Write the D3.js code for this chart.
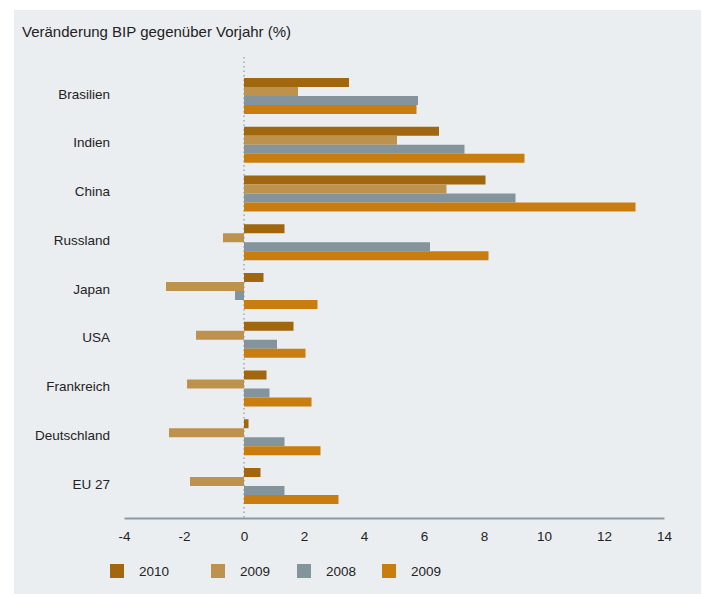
<!DOCTYPE html>
<html>
<head>
<meta charset="utf-8">
<script src="https://cdn.jsdelivr.net/npm/d3@7"></script>
<style>
  html, body { margin: 0; padding: 0; background: #ffffff; }
  svg { display: block; font-family: "Liberation Sans", Arial, sans-serif; }
</style>
</head>
<body>
<svg id="chart" width="703" height="594"></svg>
<script>
const categories = ["Brasilien", "Indien", "China", "Russland", "Japan", "USA", "Frankreich", "Deutschland", "EU 27"];
const seriesNames = ["2010", "2009", "2008", "2009"];
const values2010 = [3.5, 6.5, 8.05, 1.35, 0.65, 1.65, 0.75, 0.15, 0.55];
const values2009a = [1.8, 5.1, 6.75, -0.7, -2.6, -1.6, -1.9, -2.5, -1.8];
const values2008 = [5.8, 7.35, 9.05, 6.2, -0.3, 1.1, 0.85, 1.35, 1.35];
const values2009b = [5.75, 9.35, 13.05, 8.15, 2.45, 2.05, 2.25, 2.55, 3.15];
const xTicks = [-4, -2, 0, 2, 4, 6, 8, 10, 12, 14];
const colors = ["#a0670f", "#bd924d", "#83949d", "#c97d0f"];
const title = "Veränderung BIP gegenüber Vorjahr (%)";

const seriesValues = [values2010, values2009a, values2008, values2009b];
const seriesKeys = ["s0", "s1", "s2", "s3"];
const rows = categories.map((c, i) => ({
  cat: c,
  vals: seriesKeys.map((k, j) => ({ key: k, idx: j, v: seriesValues[j][i] }))
}));

const svg = d3.select("#chart");

// background panel
svg.append("rect").attr("x", 14).attr("y", 10).attr("width", 687).attr("height", 584).attr("fill", "#ebeef1");

// title
svg.append("text").attr("x", 22).attr("y", 37).attr("font-size", 15).attr("fill", "#222").text(title);

const x = d3.scaleLinear().domain([-4, 14]).range([124, 664]);
const y = d3.scaleBand().domain(categories).range([78, 504]).paddingInner(12.75 / 48.75).paddingOuter(0);
const yInner = d3.scaleBand().domain(seriesKeys).range([0, y.bandwidth()]).padding(0);

// zero dotted line
svg.append("line")
  .attr("x1", x(0)).attr("x2", x(0))
  .attr("y1", 57).attr("y2", 518)
  .attr("stroke", "#9eaab3").attr("stroke-width", 1.5)
  .attr("stroke-dasharray", "1.5,3");

// bars
const groups = svg.append("g").selectAll("g").data(rows).join("g")
  .attr("transform", d => `translate(0,${y(d.cat)})`);
groups.selectAll("rect").data(d => d.vals).join("rect")
  .attr("x", d => x(Math.min(0, d.v)))
  .attr("width", d => Math.abs(x(d.v) - x(0)))
  .attr("y", d => yInner(d.key))
  .attr("height", yInner.bandwidth())
  .attr("fill", d => colors[d.idx]);

// category labels
svg.append("g").selectAll("text").data(categories).join("text")
  .attr("x", 110)
  .attr("y", d => y(d) + y.bandwidth() / 2 - 2)
  .attr("dy", "0.35em")
  .attr("text-anchor", "end")
  .attr("font-size", 13.5)
  .attr("fill", "#222")
  .text(d => d);

// x axis
const axis = svg.append("g").attr("transform", "translate(0,518)")
  .call(d3.axisBottom(x).tickValues(xTicks).tickSize(0).tickPadding(13).tickFormat(d3.format("d")));
axis.select(".domain").attr("stroke", "#8a9aa4").attr("stroke-width", 2);
axis.selectAll("text").attr("font-size", 13.5).attr("fill", "#222")
  .attr("font-family", "Liberation Sans, Arial, sans-serif")
  .text(d => d < 0 ? "-" + Math.abs(d) : String(d));

// legend
const legendX = [110, 211, 297, 382];
const legend = svg.append("g").selectAll("g").data(seriesNames).join("g")
  .attr("transform", (d, i) => `translate(${legendX[i]},564)`);
legend.append("rect").attr("width", 14).attr("height", 14).attr("fill", (d, i) => colors[i]);
legend.append("text").attr("x", 29).attr("y", 7).attr("dy", "0.35em")
  .attr("font-size", 13.5).attr("fill", "#222").text(d => d);
</script>
</body>
</html>
